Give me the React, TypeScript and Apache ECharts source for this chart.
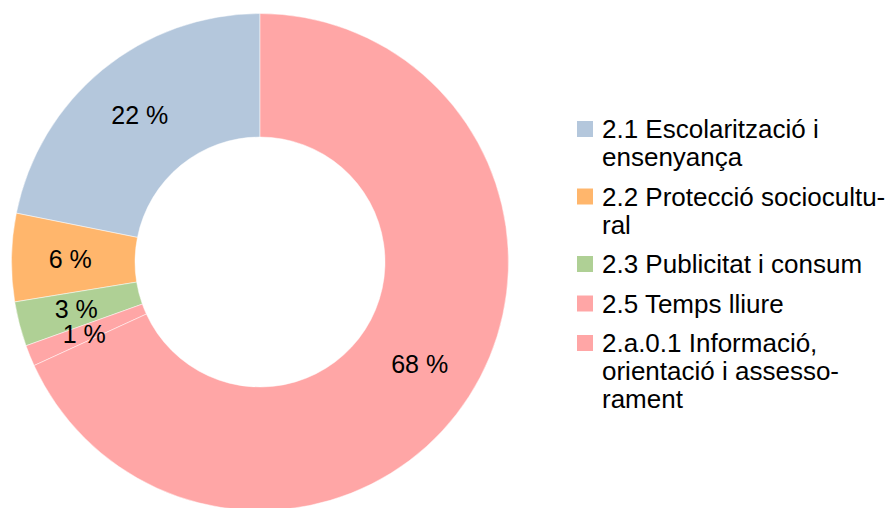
import React, { useEffect, useRef } from "react";
import * as echarts from "echarts";

const categories = [
  "2.1 Escolarització i ensenyança",
  "2.2 Protecció sociocultural",
  "2.3 Publicitat i consum",
  "2.5 Temps lliure",
  "2.a.0.1 Informació, orientació i assessorament",
];
const legendLines = [
  ["2.1 Escolarització i", "ensenyança"],
  ["2.2 Protecció sociocultu-", "ral"],
  ["2.3 Publicitat i consum"],
  ["2.5 Temps lliure"],
  ["2.a.0.1 Informació,", "orientació i assesso-", "rament"],
];
const values = [21.85, 5.72, 2.9, 1.37, 68.16];
const colors = ["#b4c7dc", "#ffb66c", "#afd095", "#ffa6a6", "#ffa6a6"];

const FONT = "'Liberation Sans', Arial, sans-serif";

export default function App() {
  const ref = useRef<HTMLDivElement>(null);
  useEffect(() => {
    if (!ref.current) return;
    const chart = echarts.init(ref.current, null, { renderer: "svg" });

    const graphics: any[] = [];
    let y = 129;
    const lh = 28;
    const gap = 39.5;
    legendLines.forEach((lines, i) => {
      graphics.push({
        type: "rect",
        shape: { x: 577, y: y - 8, width: 16, height: 16 },
        style: { fill: colors[i] },
      });
      lines.forEach((ln, j) => {
        graphics.push({
          type: "text",
          x: 602,
          y: y + j * lh,
          style: {
            text: ln,
            fontSize: 26,
            fontFamily: FONT,
            fill: "#000",
            verticalAlign: "middle",
            align: "left",
          },
        });
      });
      y += gap + (lines.length - 1) * lh;
    });

    chart.setOption({
      animation: false,
      backgroundColor: "#fff",
      graphic: graphics,
      series: [
        {
          type: "pie",
          center: [260, 262],
          radius: [125, 248.5],
          startAngle: 90,
          clockwise: false,
          avoidLabelOverlap: false,
          minShowLabelAngle: 0,
          labelLayout: { hideOverlap: false },
          itemStyle: { borderColor: "rgba(255,255,255,0.6)", borderWidth: 0.8 },
          label: {
            show: true,
            position: "inside",
            fontSize: 25,
            fontFamily: FONT,
            color: "#000",
            formatter: (p: any) => Math.round(p.percent) + " %",
          },
          labelLine: { show: false },
          emphasis: { disabled: true },
          data: categories.map((name, i) => ({
            name,
            value: values[i],
            itemStyle: { color: colors[i] },
          })),
        },
      ],
    });
    return () => chart.dispose();
  }, []);
  return (
    <div
      ref={ref}
      style={{ position: "fixed", left: 0, top: 0, width: 891, height: 508 }}
    />
  );
}
